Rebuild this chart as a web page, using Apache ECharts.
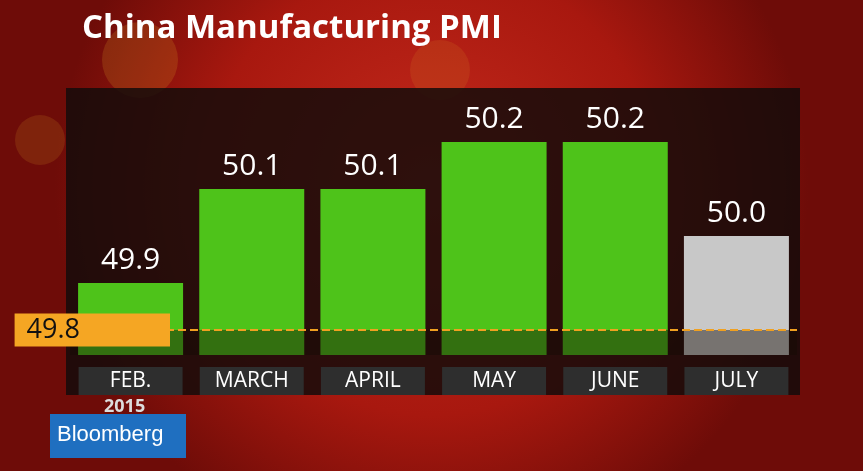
<!DOCTYPE html><html><head><meta charset="utf-8">
<script src="https://cdn.jsdelivr.net/npm/echarts@6/dist/echarts.min.js"></script>
<style>html,body{margin:0;padding:0;background:#000}#c{width:863px;height:471px}</style></head><body><div id="c"></div>
<script>
const categories=['FEB.','MARCH','APRIL','MAY','JUNE','JULY'];
const values=[49.9,50.1,50.1,50.2,50.2,50.0];
const barColors=['#4ec31a','#4ec31a','#4ec31a','#4ec31a','#4ec31a','#c8c8c8'];
const threshold=49.8;
const title='China Manufacturing PMI';
const yearLabel='2015';
const chart=echarts.init(document.getElementById('c'));
chart.setOption({
 animation:false,
 backgroundColor:{type:'radial',x:0.5,y:0.4,r:0.8,colorStops:[{offset:0,color:'#c42a1c'},{offset:0.6,color:'#a8180f'},{offset:1,color:'#6e0c08'}]},
 graphic:[
  {type:'circle',shape:{cx:140,cy:60,r:38},style:{fill:'rgba(230,170,40,0.18)'},z:-20},
  {type:'circle',shape:{cx:40,cy:140,r:25},style:{fill:'rgba(230,170,40,0.15)'},z:-20},
  {type:'circle',shape:{cx:440,cy:70,r:30},style:{fill:'rgba(230,170,40,0.12)'},z:-20},
  {type:'rect',shape:{x:66,y:88,width:734,height:307},style:{fill:'rgba(20,12,10,0.85)'},z:-10},
  {type:'text',left:82,top:12,style:{text:title,fill:'#fff',font:'bold 33px "Open Sans"'},z:5},
  {type:'text',left:104,top:398,style:{text:yearLabel,fill:'#ddd',font:'bold 18px "Open Sans"'},z:5},
  {type:'rect',shape:{x:50,y:414,width:136,height:44},style:{fill:'#1f6fc0'},z:5},
  {type:'text',left:57,top:424,style:{text:'Bloomberg',fill:'#fff',font:'22px "Liberation Sans"'},z:6}
 ],
 grid:{left:70,right:66,top:88,bottom:116},
 xAxis:{type:'category',data:categories,axisLine:{show:false},axisTick:{show:false},z:10,
  axisLabel:{color:'#fff',fontSize:21,fontFamily:'Open Sans',backgroundColor:'#2e2e2e',width:96,height:28,lineHeight:28,align:'center',margin:12,padding:[0,4]}},
 yAxis:{type:'value',min:49.747,max:50.315,show:false,splitLine:{show:false}},
 series:[{type:'bar',barWidth:105,z:3,
  data:values.map((v,i)=>({value:v,itemStyle:{color:barColors[i]}})),
  label:{show:true,position:'top',color:'#fff',fontSize:30,fontFamily:'Open Sans',distance:8,formatter:p=>p.value.toFixed(1)}},
 {type:'line',data:[],z:8,
  markArea:{silent:true,z:8,itemStyle:{color:'rgba(20,10,5,0.45)'},data:[[{yAxis:49.747},{yAxis:threshold}]]},
  markLine:{silent:true,z:9,symbol:'none',lineStyle:{color:'#f0a020',type:'dashed',width:2},
   label:{position:'start',distance:-100,formatter:threshold.toFixed(1),color:'#111',fontSize:27,fontFamily:'Open Sans',backgroundColor:'#f5a623',padding:[3,90,3,12]},
   data:[{yAxis:threshold}]}
 }]
});
</script></body></html>
